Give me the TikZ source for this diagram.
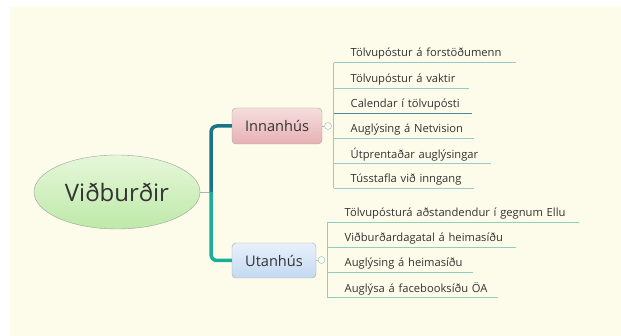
\documentclass[tikz,border=0pt]{standalone}
\usepackage{fontspec}
\setmainfont{Open Sans}
\usetikzlibrary{shapes.geometric, positioning}
\definecolor{cbg}{HTML}{FDFBE9}
\definecolor{ctext}{HTML}{333333}
\definecolor{cedge}{HTML}{9AA59A}
\definecolor{cgreenA}{HTML}{E6F7DA}
\definecolor{cgreenB}{HTML}{BEE9A8}
\definecolor{credA}{HTML}{F6DEDE}
\definecolor{credB}{HTML}{E6B0B3}
\definecolor{cblueA}{HTML}{E8F1FB}
\definecolor{cblueB}{HTML}{C3D9F1}
\definecolor{ctealdark}{HTML}{1A7489}
\definecolor{cteallight}{HTML}{1AAE97}
\definecolor{cline}{HTML}{9CC8CC}
\definecolor{clinedark}{HTML}{4A8A98}
\definecolor{clinegreen}{HTML}{8ED0B8}
\definecolor{cknob}{HTML}{8FB8D0}

\begin{document}
\begin{tikzpicture}[x=1pt, y=-1pt,
  root/.style={ellipse, draw=cedge, top color=cgreenA, bottom color=cgreenB,
    minimum width=166pt, minimum height=74pt, inner sep=0pt,
    font=\fontsize{24}{28}\selectfont, text=ctext},
  branch/.style={rectangle, rounded corners=4pt, draw=gray!70, inner sep=0pt,
    minimum height=36pt, font=\fontsize{14.6}{17}\selectfont, text=ctext},
  knob/.style={circle, draw=cknob, fill=cbg, inner sep=0pt, minimum size=7pt},
  leaf/.style={anchor=south west, inner sep=0pt, minimum height=17pt,
    align=left, font=\fontsize{11.2}{13}\selectfont, text=ctext},
  leafline/.style={cline, line width=0.7pt},
  thinline/.style={gray!60, line width=0.6pt}]

  % page and background
  \useasboundingbox (0,0) rectangle (621,336);
  \fill[white] (0,0) rectangle (621,336);
  \fill[cbg] (10,7) rectangle (621,336);

  % main nodes
  \node[root] (root) at (117,192) {Viðburðir};
  \node[branch, top color=credA, bottom color=credB, minimum width=90pt] (inn) at (277,126) {Innanhús};
  \node[branch, top color=cblueA, bottom color=cblueB, minimum width=84pt, minimum height=35pt] (utan) at (274,260.5) {Utanhús};

  % trunk
  \coordinate (tr) at (211,192);
  \draw[thinline] (root.east) -- (tr);
  \draw[ctealdark, line width=3.5pt, rounded corners=6pt] (tr) |- (inn.west);
  \draw[cteallight, line width=3.5pt, rounded corners=6pt] (tr) |- (utan.west);

  % Innanhús leaves
  \node[knob] (innk) at (328,126) {};
  \draw[thinline] (inn.east) -- (innk);
  \foreach \i/\y/\w/\t in {1/62.7/182.5/Tölvupóstur á forstöðumenn,
                           2/88.3/135.5/Tölvupóstur á vaktir,
                           3/113.3/138.5/Calendar í tölvupósti,
                           4/138.3/140.5/Auglýsing á Netvision,
                           5/163.3/157.5/Útprentaðar auglýsingar,
                           6/188.3/140.5/Tússtafla við inngang}{
    \node[leaf, text width=\w pt] (inn\i) at (333.5,\y) {\hspace*{17pt}\t};
    \draw[leafline] (inn\i.south west) -- (inn\i.south east);
  }
  \draw[clinedark, line width=0.7pt] (inn3.south west) -- (inn3.south east);
  \draw[leafline] (inn1.south west) -- (inn6.south west);

  % Utanhús leaves
  \node[knob] (utank) at (321.5,260) {};
  \draw[thinline] (utan.east) -- (utank);
  \foreach \i/\y/\w/\t in {1/222.3/252/Tölvupósturá aðstandendur í gegnum Ellu,
                           2/247.3/188.6/Viðburðardagatal á heimasíðu,
                           3/272.7/145.5/Auglýsing á heimasíðu,
                           4/297.7/171/Auglýsa á facebooksíðu ÖA}{
    \node[leaf, text width=\w pt] (ut\i) at (327,\y) {\hspace*{17.5pt}\t};
    \draw[leafline, clinegreen] (ut\i.south west) -- (ut\i.south east);
  }
  \draw[leafline, clinegreen] (ut1.south west) -- (ut4.south west);
\end{tikzpicture}
\end{document}
